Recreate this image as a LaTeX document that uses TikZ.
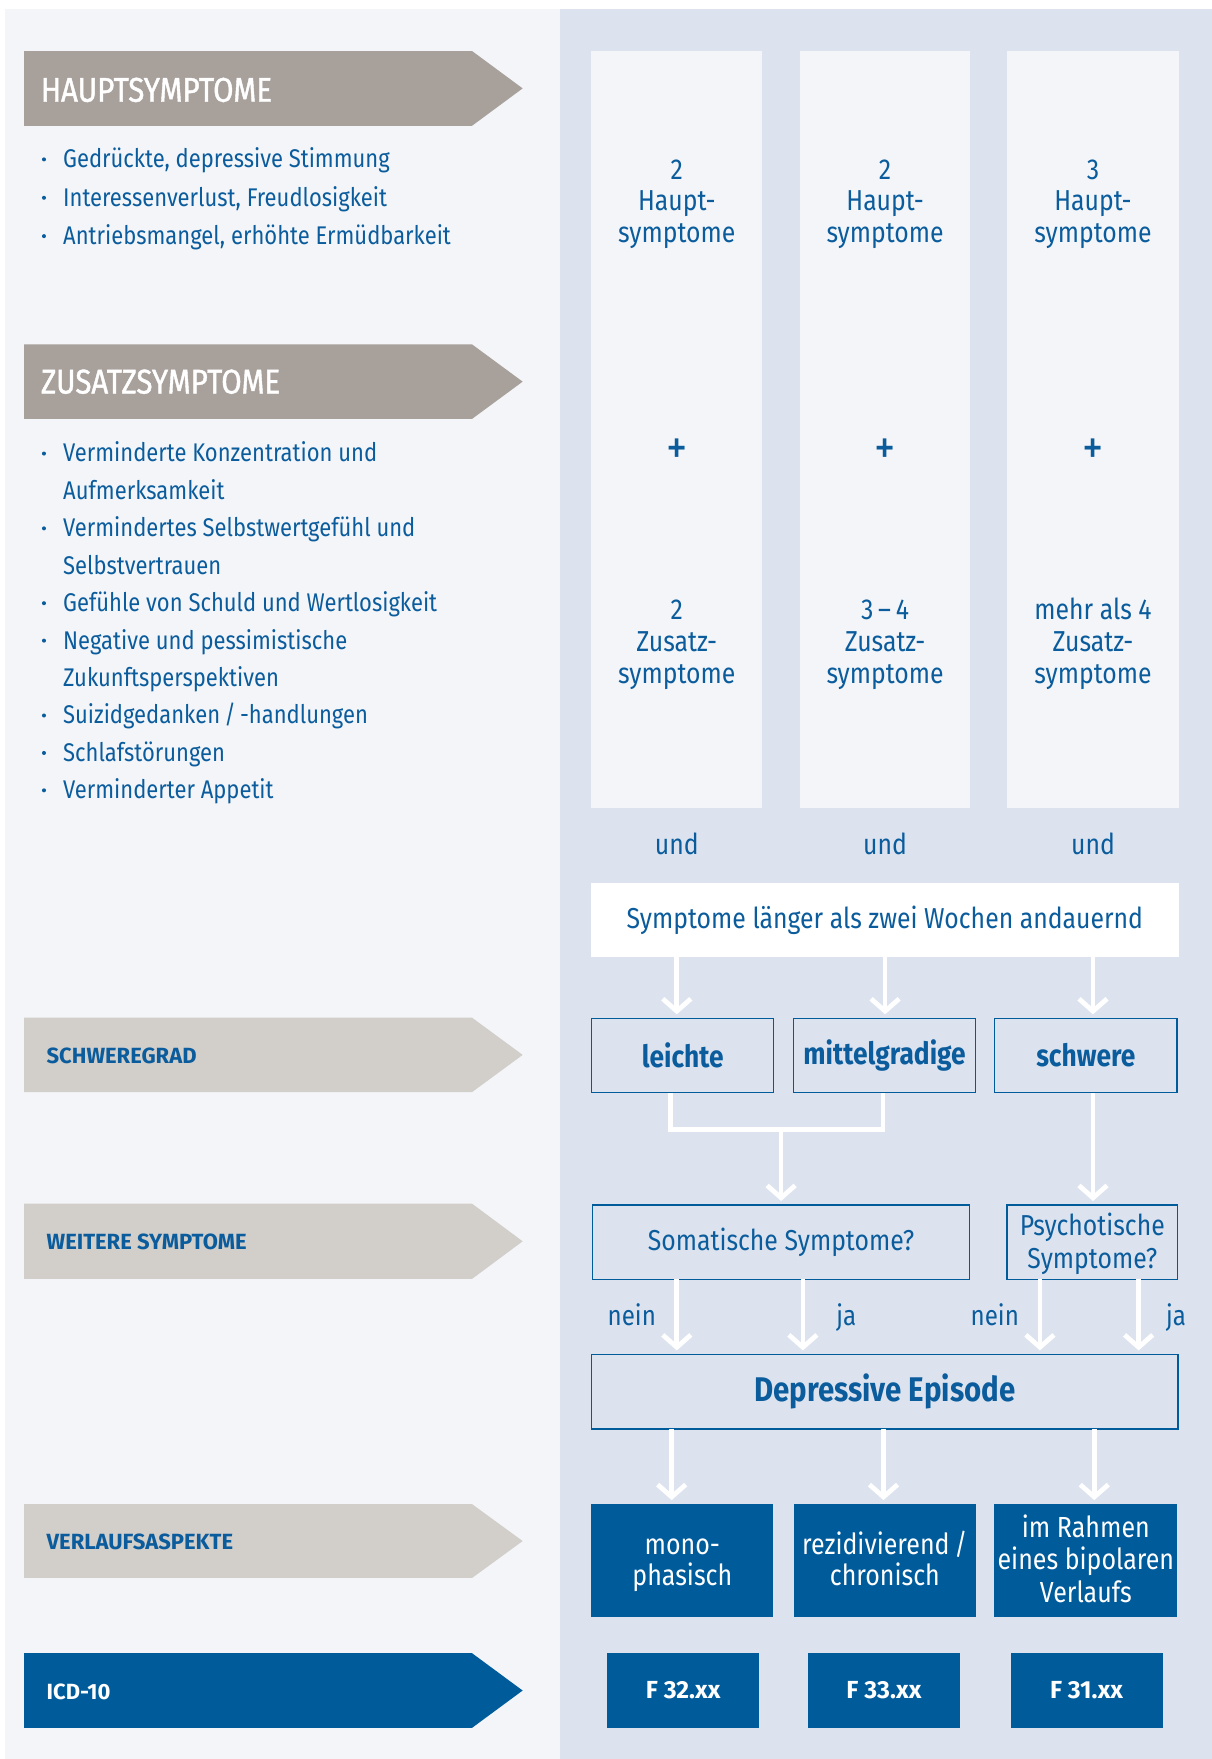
\documentclass[tikz,border=0pt]{standalone}
\usepackage{fontspec}
\setmainfont{Fira Sans}[FakeStretch=0.86]
\newfontfamily\widefont{Fira Sans}
\newfontfamily\medfont{Fira Sans}[FakeStretch=0.86, FakeBold=1.2]
\usetikzlibrary{arrows.meta}
\definecolor{leftbg}{HTML}{F3F5F9}
\definecolor{rightbg}{HTML}{DCE3EF}
\definecolor{colbg}{HTML}{F3F5F9}
\definecolor{dkgray}{HTML}{A7A09B}
\definecolor{ltgray}{HTML}{D2CECA}
\definecolor{myblue}{HTML}{005B9B}
\definecolor{txtblue}{HTML}{0B5C9C}
\newcommand{\fsz}[2]{\fontsize{#1}{#2}\selectfont}
\newcommand{\vstr}{\rule[-5.5pt]{0pt}{28.3pt}}
\newcommand{\mybanner}[3]{\fill[#3] (21.5,#1) -- (420.8,#1) -- (465.9,{(#1+#2)/2}) -- (420.8,#2) -- (21.5,#2) -- cycle;}
\begin{document}
\begin{tikzpicture}[x=1pt,y=-1pt,
  every node/.style={inner sep=0pt, outer sep=0pt, text=txtblue},
  bigban/.style={anchor=base west, text=white, font=\medfont\fsz{30.6}{32}},
  smban/.style={anchor=base west, font=\widefont\fsz{19.6}{22}\bfseries},
  item/.style={anchor=base west, align=left, font=\fsz{22.8}{33.36}},
  colbox/.style={fill=colbg, minimum width=152.6pt, minimum height=674.8pt},
  coltxt/.style={anchor=base, align=center, font=\fsz{25.7}{28.3}},
  frame/.style={draw=myblue, line width=1.2pt, minimum height=66.5pt, align=center},
  bluebox/.style={fill=myblue, text=white, align=center},
  wline/.style={draw=white, line width=4.2pt},
  arr/.style={wline, shorten >=3.5pt, -{Straight Barb[length=11pt,width=25pt]}},
  plus/.style={font=\fsz{44}{44}},
  lbl/.style={anchor=base west, font=\fsz{25}{28}}]
\useasboundingbox (0,0) rectangle (1080,1568);
\fill[white] (0,0) rectangle (1080,1568);
\fill[leftbg] (4.4,8) rectangle (499.4,1568);
\fill[rightbg] (499.4,8) rectangle (1080,1568);

% banners
\mybanner{45.5}{112.1}{dkgray}
\mybanner{307}{373.4}{dkgray}
\mybanner{907.2}{973.5}{ltgray}
\mybanner{1073}{1140}{ltgray}
\mybanner{1340.8}{1406.6}{ltgray}
\mybanner{1473.7}{1540.2}{myblue}
\node[bigban] (hs) at (36.5,90.7) {HAUPTSYMPTOME};
\node[bigban] (zs) at (36.5,350.8) {ZUSATZSYMPTOME};
\node[smban] (sg) at (41.6,947.8) {SCHWEREGRAD};
\node[smban] (ws) at (41.6,1114.2) {WEITERE SYMPTOME};
\node[smban] (va) at (41.6,1381.2) {VERLAUFSASPEKTE};
\node[smban, text=white] (icd) at (41.6,1515) {ICD-10};

% bullet lists
\foreach \yy in {149.5,183.7,217.9,411.7,478.4,545.1,578.5,645.2,678.6,711.9}
  \fill[txtblue] (39.2,\yy-7.4) circle (1.8);
\node[item] (h1) at (56.3,149.5) {Gedrückte, depressive Stimmung};
\node[item] (h2) at (56.3,183.7) {Interessenverlust, Freudlosigkeit};
\node[item] (h3) at (56.3,217.9) {Antriebsmangel, erhöhte Ermüdbarkeit};
\node[item] (z1) at (56.3,445.1) {Verminderte Konzentration und\\Aufmerksamkeit};
\node[item] (z2) at (56.3,511.8) {Vermindertes Selbstwertgefühl und\\Selbstvertrauen};
\node[item] (z3) at (56.3,545.1) {Gefühle von Schuld und Wertlosigkeit};
\node[item] (z4) at (56.3,611.9) {Negative und pessimistische\\Zukunftsperspektiven};
\node[item] (z5) at (56.3,645.2) {Suizidgedanken\,/\,-handlungen};
\node[item] (z6) at (56.3,678.6) {Schlafstörungen};
\node[item] (z7) at (56.3,711.9) {Verminderter Appetit};

% columns
\node[colbox] (c1) at (603.3,382.9) {};
\node[colbox, minimum width=152pt] (c2) at (789,382.9) {};
\node[colbox] (c3) at (974.3,382.9) {};
\node[coltxt] (h2a) at (c1 |- 0,216.2) {2\\Haupt-\\symptome};
\node[coltxt] (h2b) at (c2 |- 0,216.2) {2\\Haupt-\\symptome};
\node[coltxt] (h3c) at (c3 |- 0,216.2) {3\\Haupt-\\symptome};
\node[plus] (p1) at (c1 |- 0,403) {+};
\node[plus] (p2) at (c2 |- 0,403) {+};
\node[plus] (p3) at (c3 |- 0,403) {+};
\node[coltxt] (za) at (c1 |- 0,608.9) {2\\Zusatz-\\symptome};
\node[coltxt] (zb) at (c2 |- 0,608.9) {3\,–\,4\\Zusatz-\\symptome};
\node[coltxt] (zc) at (c3 |- 0,608.9) {mehr als 4\\Zusatz-\\symptome};
\node[coltxt] (u1) at (c1 |- 0,761.9) {und};
\node[coltxt] (u2) at (c2 |- 0,761.9) {und};
\node[coltxt] (u3) at (c3 |- 0,761.9) {und};

% flow boxes
\node[fill=white, minimum width=523.6pt, minimum height=66.3pt, font=\fsz{25.7}{28}] (wk) at (788.8,820) {Symptome länger als zwei Wochen andauernd};
\node[frame, minimum width=162.2pt, font=\fsz{27.3}{28}\bfseries] (lei) at (608.6,940.9) {leichte};
\node[frame, minimum width=162pt, font=\fsz{27.3}{28}\bfseries] (mit) at (788.5,940.9) {mittelgradige};
\node[frame, minimum width=162.4pt, font=\fsz{27.3}{28}\bfseries] (sch) at (967.9,940.9) {schwere};
\node[frame, minimum width=336.4pt, font=\fsz{25.7}{27.4}] (som) at (696.2,1107.3) {Somatische Symptome?};
\node[frame, minimum width=152pt, font=\fsz{25.7}{27.4}] (psy) at (973.7,1107.3) {\vstr Psychotische\\\vstr Symptome?};
\node[frame, minimum width=522.9pt, font=\fsz{30.5}{32}\bfseries] (de) at (788.75,1240.5) {Depressive Episode};
\node[bluebox, minimum width=162.5pt, minimum height=100.3pt, font=\fsz{25.9}{28.3}] (mono) at (608.25,1390.85) {\vstr mono-\\\vstr phasisch};
\node[bluebox, minimum width=162.5pt, minimum height=100.3pt, font=\fsz{25.9}{28.3}] (rez) at (788.75,1390.85) {\vstr rezidivierend\,/\\\vstr chronisch};
\node[bluebox, minimum width=163.3pt, minimum height=100.3pt, font=\fsz{25.9}{28.3}] (bip) at (967.95,1390.85) {\vstr im Rahmen\\\vstr eines bipolaren\\\vstr Verlaufs};
\node[bluebox, minimum width=135.4pt, minimum height=66.4pt, font=\widefont\fsz{22}{24}\bfseries] (f32) at (609,1506.8) {F 32.xx};
\node[bluebox, minimum width=135.1pt, minimum height=66.4pt, font=\widefont\fsz{22}{24}\bfseries] (f33) at (787.95,1506.8) {F 33.xx};
\node[bluebox, minimum width=135.5pt, minimum height=66.4pt, font=\widefont\fsz{22}{24}\bfseries] (f31) at (968.55,1506.8) {F 31.xx};

% connectors
\draw[arr] (c1 |- wk.south) -- (c1 |- lei.north);
\draw[arr] (c2 |- wk.south) -- (c2 |- mit.north);
\draw[arr] (c3 |- wk.south) -- (c3 |- sch.north);
\draw[wline] ([xshift=-10.6pt]lei.south) -- ++(0,32.8) -| ([xshift=-1.5pt]mit.south);
\coordinate (bj) at (696.3,1007);
\draw[arr] (bj) -- (bj |- som.north);
\draw[arr] (c3 |- sch.south) -- (c3 |- psy.north);
\draw[arr] (c1 |- som.south) -- (c1 |- de.north);
\draw[arr] ([xshift=19.5pt]som.south) -- ([xshift=19.5pt]som.south |- de.north);
\draw[arr] ([xshift=-46.7pt]psy.south) -- ([xshift=-46.7pt]psy.south |- de.north);
\draw[arr] ([xshift=41.3pt]psy.south) -- ([xshift=41.3pt]psy.south |- de.north);
\coordinate (m1) at ([xshift=-9.5pt]mono.north);
\coordinate (m2) at ([xshift=-1.2pt]rez.north);
\coordinate (m3) at ([xshift=7.5pt]bip.north);
\draw[arr] (de.south -| m1) -- (m1);
\draw[arr] (de.south -| m2) -- (m2);
\draw[arr] (de.south -| m3) -- (m3);
\node[lbl] (n1) at (541.7,1181.7) {nein};
\node[lbl] (j1) at (745.6,1181.7) {ja};
\node[lbl] (n2) at (865.3,1181.7) {nein};
\node[lbl] (j2) at (1039.4,1181.7) {ja};
\end{tikzpicture}
\end{document}
